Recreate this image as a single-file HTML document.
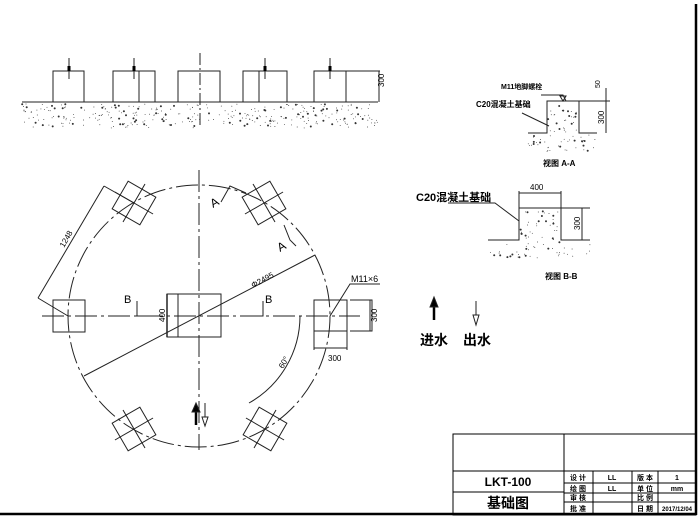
<!DOCTYPE html>
<html><head><meta charset="utf-8"><style>
html,body{margin:0;padding:0;background:#fff;width:700px;height:520px;overflow:hidden}
svg{display:block}
text{font-family:"Liberation Sans","Noto Sans CJK SC",sans-serif;fill:#000}
.b{font-weight:bold}
</style></head><body>
<svg id="s" width="700" height="520" viewBox="0 0 700 520" xmlns="http://www.w3.org/2000/svg">
<defs>
<g id="rb" stroke="#222" fill="none">
<rect x="-16" y="-16" width="32" height="32"/>
<line x1="-22" y1="0" x2="22" y2="0"/><line x1="0" y1="-22" x2="0" y2="22"/>
</g>
</defs>
<g stroke="#222" fill="none" stroke-width="1">
<!-- border -->
<line x1="696" y1="4" x2="696" y2="515" stroke="#000" stroke-width="2.5"/>
<line x1="0" y1="514" x2="696" y2="514" stroke="#000" stroke-width="2.5"/>

<!-- top elevation -->
<line x1="22" y1="102" x2="378" y2="102"/>
<path d="M53 102V71H84V102M113 102V71H155V102M139 71V102M178 102V71H220V102M243 102V71H287V102M259 71V102M314 102V71H346V102M346 71H380M379 71V102"/>
<line x1="69" y1="58" x2="69" y2="79"/><line x1="134" y1="58" x2="134" y2="79"/>
<line x1="265" y1="58" x2="265" y2="79"/><line x1="330" y1="58" x2="330" y2="79"/>
<line x1="200" y1="53" x2="200" y2="128" stroke-dasharray="12,3,2,3"/>
<g fill="#000" stroke="none"><rect x="67.5" y="66" width="3" height="5"/><rect x="132.5" y="66" width="3" height="5"/><rect x="263.5" y="66" width="3" height="5"/><rect x="328.5" y="66" width="3" height="5"/></g>
<text x="384" y="87" font-size="8" transform="rotate(-90 384 87)" stroke="none">300</text>

<!-- plan -->
<circle cx="199" cy="316" r="131" stroke-dasharray="22,4,3,4"/>
<line x1="199" y1="170" x2="199" y2="450" stroke-dasharray="22,4,3,4"/>
<line x1="42" y1="316" x2="360" y2="316" stroke-dasharray="22,4,3,4"/>
<rect x="53" y="300" width="32" height="32"/>
<path d="M314 300H347V331H314ZM314 331V350M347 331V350M314 348H347"/>
<use href="#rb" transform="translate(134,203) rotate(30)"/>
<use href="#rb" transform="translate(264,203) rotate(-30)"/>
<use href="#rb" transform="translate(134,429) rotate(-30)"/>
<use href="#rb" transform="translate(265,429) rotate(30)"/>
<!-- center box -->
<rect x="167" y="294" width="54" height="43"/>
<line x1="178" y1="294" x2="178" y2="337"/>
<line x1="167" y1="294" x2="167" y2="337" stroke-width="1.5"/>
<text x="165" y="322" font-size="8" transform="rotate(-90 165 322)" stroke="none">400</text>
<!-- diameter -->
<line x1="84" y1="376" x2="315" y2="255"/>
<text x="253" y="288" font-size="8" transform="rotate(-28 253 288)" stroke="none">Φ2495</text>
<!-- 1248 -->
<path d="M38 298L104 186M38 298L68 316M104 186L134 203"/>
<text x="64" y="248" font-size="8" transform="rotate(-60 64 248)" stroke="none">1248</text>
<!-- A marks -->
<path d="M221 202L230 186L246 193M284 225L290 240L296 246"/>
<text x="213" y="208" font-size="12" stroke="none" transform="rotate(-30 213 208)">A</text>
<text x="280" y="252" font-size="12" stroke="none" transform="rotate(-30 280 252)">A</text>
<!-- B marks -->
<path d="M137 301V316H152M263 301V316H248"/>
<text x="124" y="303" font-size="11" stroke="none">B</text>
<text x="265" y="303" font-size="11" stroke="none">B</text>
<!-- 60 arc -->
<path d="M300 316A100 100 0 0 1 249 403"/>
<text x="283" y="369" font-size="8" stroke="none" transform="rotate(-60 283 369)">60°</text>
<!-- M11x6 -->
<path d="M330 316L350 284H380"/>
<text x="351" y="282" font-size="9" stroke="none">M11×6</text>
<!-- 300 dims right box -->
<path d="M350 300H372V331H350M370 300V331"/>
<text x="377" y="322" font-size="8" stroke="none" transform="rotate(-90 377 322)">300</text>
<text x="328" y="361" font-size="8" stroke="none">300</text>
<!-- arrows center -->
<path d="M196 425V410" stroke="#000" stroke-width="2.5"/>
<path d="M192 412L196 403L200 412Z" fill="#000"/>
<path d="M205 403V418"/>
<path d="M202 417L205 426L208 417Z" fill="#fff"/>

<!-- legend -->
<path d="M434 320V305" stroke="#000" stroke-width="2.5"/>
<path d="M430 307L434 297L438 307Z" fill="#000"/>
<path d="M476 301V316"/>
<path d="M473 315L476 325L479 315Z" fill="#fff"/>
<text x="420" y="345" font-size="14" class="b" stroke="none">进水</text>
<text x="463" y="345" font-size="14" class="b" stroke="none">出水</text>

<!-- section A-A -->
<path d="M528 133H547V101H579V133H597M579 101H610M606 88V133M563 101L560 96H566ZM541 95L563 95L566 101M522 113L549 126"/>
<text x="501" y="89" font-size="7" class="b" stroke="none">M11地脚螺栓</text>
<text x="476" y="107" font-size="8" class="b" stroke="none">C20混凝土基础</text>
<text x="600" y="88" font-size="7" stroke="none" transform="rotate(-90 600 88)">50</text>
<text x="604" y="124" font-size="8" stroke="none" transform="rotate(-90 604 124)">300</text>
<text x="543" y="166" font-size="8" class="b" stroke="none">视图 A-A</text>

<!-- section B-B -->
<path d="M488 240H519V208H561V240H590M519 191V208M561 191V208M519 193H561M561 208H590M582 208V240M448 203H495L519 221"/>
<text x="530" y="190" font-size="8" stroke="none">400</text>
<text x="580" y="230" font-size="8" stroke="none" transform="rotate(-90 580 230)">300</text>
<text x="416" y="201" font-size="11" class="b" stroke="none">C20混凝土基础</text>
<text x="545" y="279" font-size="8" class="b" stroke="none">视图 B-B</text>

<!-- title block -->
<rect x="453" y="434" width="243" height="81" stroke="#000"/>
<path d="M564 434V515M453 471H696M453 492H564M564 483H696M564 493H696M564 502H696M593 471V515M632 471V515M658 471V515" stroke="#000"/>
</g>
<g font-size="7" class="b" text-anchor="middle">
<text x="578" y="480" class="b">设 计</text><text x="612" y="480" class="b">LL</text><text x="645" y="480" class="b">版 本</text><text x="677" y="480" class="b">1</text>
<text x="578" y="491" class="b">绘 图</text><text x="612" y="491" class="b">LL</text><text x="645" y="491" class="b">单 位</text><text x="677" y="491" class="b">mm</text>
<text x="578" y="500" class="b">审 核</text><text x="645" y="500" class="b">比 例</text>
<text x="578" y="511" class="b">批 准</text><text x="645" y="511" class="b">日 期</text><text x="677" y="511" class="b" font-size="6">2017/12/04</text>
<text x="508" y="486" font-size="12" font-family="Liberation Serif,serif">LKT-100</text>
<text x="508" y="508" font-size="14">基础图</text>
</g>
<g id="dots"></g>
</svg>
<script>
var s=12345;function r(){s=(s*1103515245+12345)%2147483648;return s/2147483648;}
var g=document.getElementById('dots'),h='';
function fill(x0,x1,y0,y1,n){for(var i=0;i<n;i++){var x=x0+r()*(x1-x0),y=y0+r()*(y1-y0),big=r()<0.2;h+='<circle cx="'+x.toFixed(1)+'" cy="'+y.toFixed(1)+'" r="'+(big?1:0.45)+'" fill="#333"/>';}}
fill(22,378,104,128,330);
fill(548,578,104,133,30);fill(528,597,135,152,40);
fill(520,560,211,240,35);fill(488,590,242,258,40);
g.innerHTML=h;
</script>
</body></html>
